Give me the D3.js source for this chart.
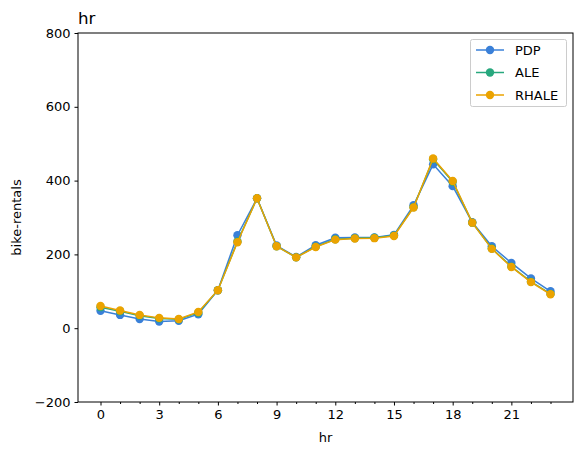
<!DOCTYPE html>
<html><head><meta charset="utf-8">
<script src="https://cdn.jsdelivr.net/npm/d3@7"></script>
<style>body{margin:0;background:#fff}svg{display:block}</style>
</head><body><div id="chart"></div>
<script>
const hours = d3.range(0, 24);
const pdp   = [47, 36, 25, 18, 20, 38, 103, 252, 352, 224, 193, 225, 245, 246, 246, 253, 333, 444, 385, 287, 222, 177, 135, 100];
const ale   = [57, 46, 34, 26, 24, 42, 103, 235, 352, 222, 192, 221, 241, 244, 245, 251, 328, 458, 397, 286, 216, 167, 126, 93];
const rhale = [60, 48, 36, 28, 25, 44, 103, 233, 352, 222, 192, 220, 240, 243, 244, 250, 327, 460, 399, 286, 215, 166, 125, 92];
const seriesNames = ["PDP", "ALE", "RHALE"];
const seriesColors = ["#3a80d8", "#28a87e", "#eba300"];
const yTicks = [-200, 0, 200, 400, 600, 800];
const xTicks = [0, 3, 6, 9, 12, 15, 18, 21];

const W = 583, H = 455;
const m = {left: 78, right: 10, top: 33, bottom: 53};
const svg = d3.select("#chart").append("svg").attr("width", W).attr("height", H);
const x = d3.scaleLinear().domain([-1.15, 24.15]).range([m.left, W - m.right]);
const y = d3.scaleLinear().domain([-200, 800]).range([H - m.bottom, m.top]);
const font = "DejaVu Sans, sans-serif";

const xAxis = svg.append("g").attr("transform", `translate(0,${H - m.bottom})`)
  .call(d3.axisBottom(x).tickValues(xTicks).tickSize(3.5).tickPadding(4).tickFormat(d3.format("d")));
svg.append("g").attr("transform", `translate(0,${H - m.bottom})`)
  .call(d3.axisBottom(x).tickValues(hours.filter(h => h % 3 !== 0)).tickSize(2).tickFormat(""))
  .call(g => g.select(".domain").remove());
const yAxis = svg.append("g").attr("transform", `translate(${m.left},0)`)
  .call(d3.axisLeft(y).tickValues(yTicks).tickSize(3.5).tickPadding(4).tickFormat(d => d < 0 ? "\u2212" + Math.abs(d) : d));
svg.selectAll(".tick text").attr("font-family", font).attr("font-size", 13).attr("fill", "#000");
svg.selectAll(".tick line").attr("stroke", "#000");
svg.selectAll(".domain").remove();
svg.append("rect").attr("x", m.left).attr("y", m.top).attr("width", W - m.right - m.left)
  .attr("height", H - m.bottom - m.top).attr("fill", "none").attr("stroke", "#000").attr("stroke-width", 1);

const data = [pdp, ale, rhale];
const line = d3.line().x((d, i) => x(hours[i])).y(d => y(d));
data.forEach((vals, k) => {
  const g = svg.append("g");
  g.append("path").attr("d", line(vals)).attr("fill", "none").attr("stroke", seriesColors[k]).attr("stroke-width", 1.5);
  g.selectAll("circle").data(vals).join("circle")
    .attr("cx", (d, i) => x(hours[i])).attr("cy", d => y(d)).attr("r", 4.2).attr("fill", seriesColors[k]);
});

svg.append("text").attr("x", m.left).attr("y", 24).attr("font-family", font).attr("font-size", 16.7).text("hr");
svg.append("text").attr("x", (m.left + W - m.right) / 2).attr("y", 442).attr("text-anchor", "middle")
  .attr("font-family", font).attr("font-size", 13).text("hr");
svg.append("text").attr("transform", `translate(21,${(m.top + H - m.bottom) / 2}) rotate(-90)`)
  .attr("text-anchor", "middle").attr("font-family", font).attr("font-size", 13).text("bike-rentals");

const lg = svg.append("g");
lg.append("rect").attr("x", 470.5).attr("y", 39.5).attr("width", 96).attr("height", 67).attr("rx", 2)
  .attr("fill", "#fff").attr("fill-opacity", 0.8).attr("stroke", "#ccc");
seriesNames.forEach((n, k) => {
  const yy = 50 + k * 22.5;
  lg.append("line").attr("x1", 476).attr("x2", 504).attr("y1", yy).attr("y2", yy).attr("stroke", seriesColors[k]).attr("stroke-width", 1.5);
  lg.append("circle").attr("cx", 490).attr("cy", yy).attr("r", 4.2).attr("fill", seriesColors[k]);
  lg.append("text").attr("x", 515).attr("y", yy + 4.7).attr("font-family", font).attr("font-size", 13).text(n);
});
</script></body></html>
